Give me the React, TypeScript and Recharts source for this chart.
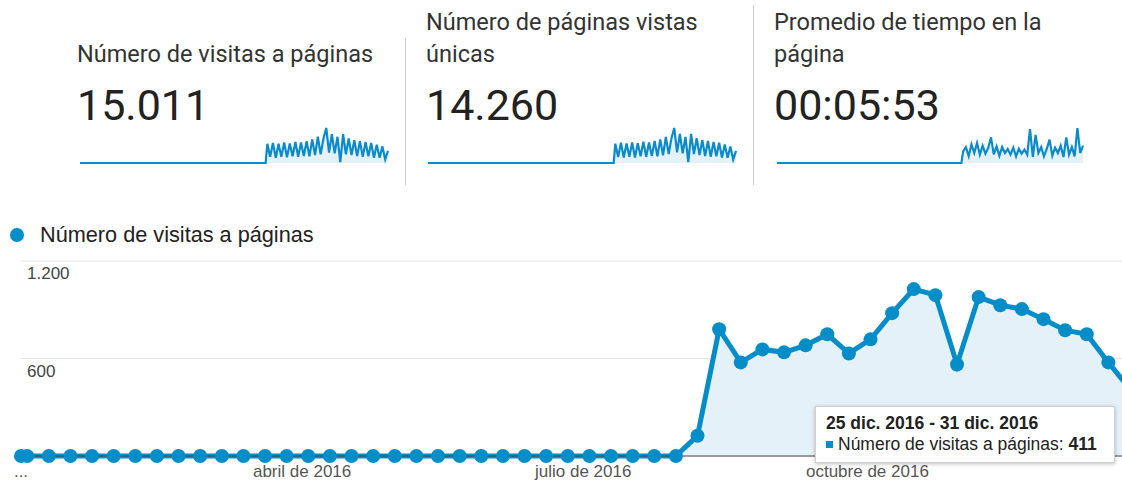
import React from 'react';
import { AreaChart, Area, XAxis, YAxis, CartesianGrid, Tooltip } from 'recharts';

const BLUE = '#058dc7';
const FILL = '#e5f1f9';

// semanas de 2016: la primera es parcial (1-2 ene), luego de domingo a sábado
const weeklyPageviews = [
  0, 0, 0, 0, 0, 0, 0, 0, 0, 0, 0, 0, 0, 0, 0, 0,
  0, 0, 0, 0, 0, 0, 0, 0, 0, 0, 0, 0, 0, 0, 0, 0,
  125, 780, 576, 656, 638, 681, 749, 631, 718, 879, 1027, 990,
  563, 978, 928, 904, 842, 774, 749, 576, 411,
];

const monthTicks = [0, 91, 182, 274];
const monthLabels = ['...', 'abril de 2016', 'julio de 2016', 'octubre de 2016'];
const yTicks = [600, 1200];
const monthShort = ['ene.', 'feb.', 'mar.', 'abr.', 'may.', 'jun.', 'jul.', 'ago.', 'sept.', 'oct.', 'nov.', 'dic.'];

// sparklines (valores diarios aprox., muestreados cada ~3,5 días desde que empieza el tráfico)
const sparkPageviews = [
  110, 35, 115, 30, 110, 35, 118, 32, 112, 38, 120, 35, 118, 40, 125, 38,
  135, 45, 150, 50, 140, 200, 60, 165, 55, 150, 5, 165, 50, 140, 45, 130,
  40, 125, 35, 120, 38, 115, 30, 105, 30, 95, 20, 70,
];
const sparkUnique = [
  105, 33, 110, 30, 106, 34, 112, 30, 108, 36, 115, 33, 112, 38, 120, 36,
  128, 42, 142, 48, 135, 190, 58, 158, 52, 142, 5, 158, 48, 134, 43, 124,
  38, 120, 34, 114, 36, 110, 29, 100, 28, 90, 18, 66,
];
const sparkTime = [
  350, 480, 200, 560, 300, 600, 250, 520, 280, 450, 770, 260, 500, 220, 480, 300,
  420, 250, 460, 200, 430, 280, 400, 250, 1015, 180, 840, 300, 480, 200, 420, 700,
  220, 460, 300, 520, 180, 770, 250, 480, 200, 1050, 300, 520,
];
const SPARK_START = 222;

const weekDay = (i: number) => (i === 0 ? 0 : 2 + 7 * (i - 1));
const mainData = weeklyPageviews.map((v, i) => ({ day: weekDay(i), v }));

const toSpark = (vals: number[]) => {
  const step = (365 - SPARK_START) / (vals.length - 1);
  return [
    { d: 0, v: 0 },
    { d: SPARK_START - 2, v: 0 },
    ...vals.map((v, i) => ({ d: SPARK_START + i * step, v })),
  ];
};

const fmt = (n: number) => String(n).replace(/\B(?=(\d{3})+(?!\d))/g, '.');

const dayLabel = (day: number) => {
  const dt = new Date(2016, 0, 1 + day);
  return `${dt.getDate()} ${monthShort[dt.getMonth()]} ${dt.getFullYear()}`;
};

const SANS = '"Liberation Sans", Arial, sans-serif';

const GaTooltip = ({ active, payload }: any) => {
  if (!active || !payload || !payload.length) return null;
  const p = payload[0].payload;
  const end = Math.min(p.day + (p.day === 0 ? 1 : 6), 365);
  return (
    <div
      style={{
        background: '#fff',
        border: '1px solid #d0d0d0',
        boxShadow: '0 1px 4px rgba(0,0,0,0.25)',
        padding: '6px 17px 7px 10px',
        fontFamily: SANS,
        fontSize: 17.5,
        lineHeight: '21px',
        color: '#222',
        whiteSpace: 'nowrap',
      }}
    >
      <div style={{ fontWeight: 700 }}>
        {dayLabel(p.day)} - {dayLabel(end)}
      </div>
      <div>
        <span style={{ display: 'inline-block', width: 7, height: 7, background: BLUE, marginRight: 5, verticalAlign: 2 }} />
        Número de visitas a páginas: <b>{fmt(p.v)}</b>
      </div>
    </div>
  );
};

const XTick = ({ x, y, payload }: any) => {
  const idx = monthTicks.indexOf(payload.value);
  return (
    <text x={x} y={y + 13} textAnchor="middle" fontFamily={SANS} fontSize={17} fill="#555">
      {monthLabels[idx]}
    </text>
  );
};

const YTick = ({ y, payload }: any) => (
  <text x={27} y={y + 18} textAnchor="start" fontFamily={SANS} fontSize={17} fill="#444">
    {fmt(payload.value)}
  </text>
);

const Spark = ({ values, left, width }: { values: number[]; left: number; width: number }) => (
  <div style={{ position: 'absolute', left, top: 124 }}>
    <AreaChart width={width} height={41} data={toSpark(values)} margin={{ top: 4, right: 2, bottom: 2, left: 2 }}>
      <XAxis dataKey="d" type="number" domain={[0, 365]} hide />
      <YAxis domain={[0, 'dataMax']} hide />
      <Area
        type="linear"
        dataKey="v"
        stroke="#0b8bc9"
        strokeWidth={2.2}
        fill={FILL}
        fillOpacity={1}
        dot={false}
        isAnimationActive={false}
      />
    </AreaChart>
  </div>
);

const Metric = ({ title, value, left, topLine }: { title: string[]; value: string; left: number; topLine: number }) => (
  <div style={{ position: 'absolute', left, top: 0, fontFamily: 'Roboto, sans-serif', color: '#333' }}>
    <div style={{ position: 'absolute', top: 6 + topLine * 32, left: 0, fontSize: 23.5, lineHeight: '32px', whiteSpace: 'nowrap' }}>
      {title.map((t) => (
        <div key={t}>{t}</div>
      ))}
    </div>
    <div style={{ position: 'absolute', top: 80, left: 0, fontSize: 43, lineHeight: '50px', color: '#222' }}>{value}</div>
  </div>
);

export default function App() {
  return (
    <div style={{ position: 'absolute', left: 0, top: 0, width: 1122, height: 481, overflow: 'hidden', background: '#fff' }}>
      <Metric title={['Número de visitas a páginas']} value="15.011" left={77} topLine={1} />
      <Metric title={['Número de páginas vistas', 'únicas']} value="14.260" left={426} topLine={0} />
      <Metric title={['Promedio de tiempo en la', 'página']} value="00:05:53" left={774} topLine={0} />
      <div style={{ position: 'absolute', left: 405, top: 38, width: 1, height: 147, background: '#ccc' }} />
      <div style={{ position: 'absolute', left: 753, top: 5, width: 1, height: 180, background: '#ccc' }} />
      <Spark values={sparkPageviews} left={78} width={312} />
      <Spark values={sparkUnique} left={426} width={312} />
      <Spark values={sparkTime} left={775} width={310} />

      <div style={{ position: 'absolute', left: 10, top: 228, width: 14, height: 14, borderRadius: '50%', background: BLUE }} />
      <div style={{ position: 'absolute', left: 40, top: 223, fontFamily: SANS, fontSize: 21.7, lineHeight: '24px', color: '#222', whiteSpace: 'nowrap' }}>
        Número de visitas a páginas
      </div>

      <div style={{ position: 'absolute', left: 0, top: 250 }}>
        <AreaChart width={1150} height={236} data={mainData} margin={{ top: 11, right: 20, bottom: 0, left: 21 }}>
          <CartesianGrid horizontal vertical={false} stroke="#e6e6e6" />
          <XAxis
            dataKey="day"
            type="number"
            domain={[0, 359]}
            ticks={monthTicks}
            interval={0}
            tick={<XTick />}
            tickLine={false}
            axisLine={{ stroke: '#444' }}
            height={30}
          />
          <YAxis
            domain={[0, 1200]}
            ticks={yTicks}
            interval={0}
            width={1}
            mirror
            tick={<YTick />}
            axisLine={false}
            tickLine={false}
          />
          <Tooltip
            defaultIndex={52}
            cursor={false}
            isAnimationActive={false}
            position={{ x: 815, y: 156 }}
            content={<GaTooltip />}
          />
          <Area
            type="linear"
            dataKey="v"
            stroke={BLUE}
            strokeWidth={5}
            fill={FILL}
            fillOpacity={1}
            dot={{ r: 7, fill: BLUE, stroke: BLUE, strokeWidth: 0 }}
            activeDot={{ r: 7, fill: BLUE, stroke: BLUE, strokeWidth: 0 }}
            isAnimationActive={false}
          />
        </AreaChart>
      </div>
    </div>
  );
}
